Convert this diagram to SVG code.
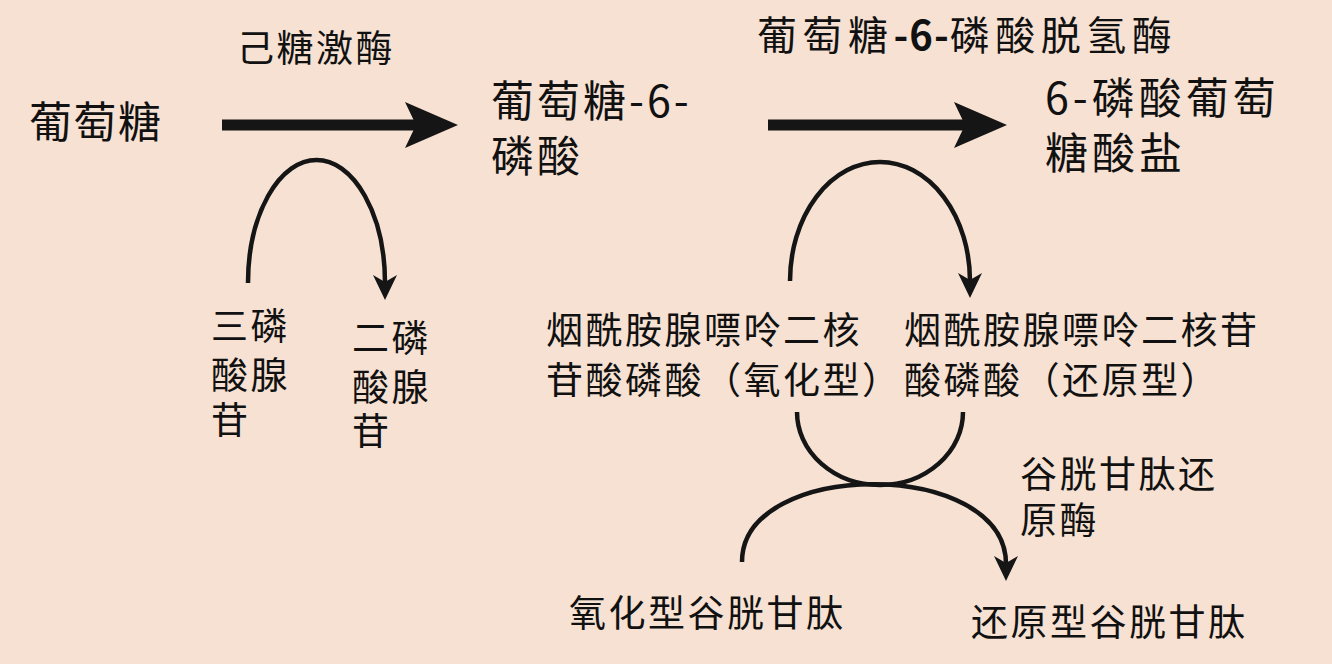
<svg xmlns="http://www.w3.org/2000/svg" width="1332" height="664" viewBox="0 0 1332 664">
  <style>
    .t { font-family: "Noto Sans CJK SC", "Noto Sans", sans-serif; fill: #111; }
    .main { font-size: 43px; letter-spacing: 1.5px; }
    .lab { font-size: 37px; letter-spacing: 2.5px; }
    .big { fill: none; stroke: #151515; stroke-width: 11; }
    .cur { fill: none; stroke: #151515; stroke-width: 4.5; }
  </style>
  <defs>
    <marker id="bigHead" markerUnits="userSpaceOnUse" markerWidth="56" markerHeight="48" refX="11" refY="23" orient="auto" overflow="visible">
      <path d="M0,0 L53,23 L0,46 L11,23 Z" fill="#151515"/>
    </marker>
    <marker id="smallHead" markerUnits="userSpaceOnUse" markerWidth="28" markerHeight="26" refX="8" refY="12" orient="auto" overflow="visible">
      <path d="M0,0 L25,12 L0,24 L7,12 Z" fill="#151515"/>
    </marker>
  </defs>
  <rect width="1332" height="664" fill="#f6e1d3"/>

  <g id="connectors">
    <path class="big" d="M222,125 L416,125" marker-end="url(#bigHead)"/>
    <path class="big" d="M768,125 L965,125" marker-end="url(#bigHead)"/>
    <path class="cur" d="M248,283 A68.5,123 0 0 1 385,283" marker-end="url(#smallHead)"/>
    <path class="cur" d="M790,281 A90,119 0 0 1 970,281" marker-end="url(#smallHead)"/>
    <path class="cur" d="M797,412 A83,73 0 0 0 963,412"/>
    <path class="cur" d="M742,562 C742,458 1006,458 1006,564" marker-end="url(#smallHead)"/>
  </g>

  <g id="glucose">
    <text class="t main" x="29" y="138">葡萄糖</text>
  </g>
  <g id="hexokinase">
    <text class="t lab" x="237" y="62">己糖激酶</text>
  </g>
  <g id="g6p">
    <text class="t main" x="491" y="117" style="letter-spacing:3px">葡萄糖-6-</text>
    <text class="t main" x="491" y="172" style="letter-spacing:3px">磷酸</text>
  </g>
  <g id="g6pd">
    <text class="t lab" x="757" y="50" style="font-size:40px;letter-spacing:5.5px">葡萄糖<tspan font-weight="700" letter-spacing="1">-6-</tspan>磷酸脱氢酶</text>
  </g>
  <g id="6pg">
    <text class="t main" x="1045" y="114" style="letter-spacing:4px">6-磷酸葡萄</text>
    <text class="t main" x="1045" y="169" style="letter-spacing:4px">糖酸盐</text>
  </g>
  <g id="atp">
    <text class="t lab" x="211" y="340">三磷</text>
    <text class="t lab" x="211" y="389">酸腺</text>
    <text class="t lab" x="211" y="434">苷</text>
  </g>
  <g id="adp">
    <text class="t lab" x="352" y="352">二磷</text>
    <text class="t lab" x="352" y="401">酸腺</text>
    <text class="t lab" x="352" y="445">苷</text>
  </g>
  <g id="nadp">
    <text class="t lab" x="546" y="344">烟酰胺腺嘌呤二核</text>
    <text class="t lab" x="546" y="394">苷酸磷酸（氧化型）</text>
  </g>
  <g id="nadph">
    <text class="t lab" x="904" y="344">烟酰胺腺嘌呤二核苷</text>
    <text class="t lab" x="904" y="394">酸磷酸（还原型）</text>
  </g>
  <g id="gr">
    <text class="t lab" x="1020" y="488">谷胱甘肽还</text>
    <text class="t lab" x="1020" y="534">原酶</text>
  </g>
  <g id="gssg">
    <text class="t lab" x="569" y="627">氧化型谷胱甘肽</text>
  </g>
  <g id="gsh">
    <text class="t lab" x="971" y="636">还原型谷胱甘肽</text>
  </g>
</svg>
